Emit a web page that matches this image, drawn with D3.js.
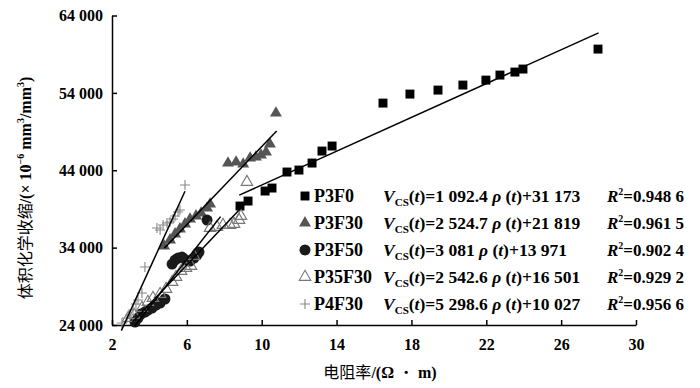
<!DOCTYPE html>
<html>
<head>
<meta charset="utf-8">
<script src="https://cdn.jsdelivr.net/npm/d3@7/dist/d3.min.js"></script>
<style>
  body { margin: 0; background: #fff; }
  text { font-family: "Liberation Serif", "Times New Roman", serif; fill: #000; font-weight: bold; }
  .cjk { font-family: "Noto Sans CJK SC", sans-serif; font-weight: normal; }
</style>
</head>
<body>
<div id="container"></div>
<script>
// series names and fits
const seriesNames = ["P3F0", "P3F30", "P3F50", "P35F30", "P4F30"];
const slopes = [1092.4, 2524.7, 3081, 2542.6, 5298.6];
const intercepts = [31173, 21819, 13971, 16501, 10027];
const slopeLabels = ["1 092.4", "2 524.7", "3 081", "2 542.6", "5 298.6"];
const interceptLabels = ["31 173", "21 819", "13 971", "16 501", "10 027"];
const r2Labels = ["0.948 6", "0.961 5", "0.902 4", "0.929 2", "0.956 6"];
const fitRanges = [[8.8, 28.0], [4.8, 10.8], [3.2, 7.8], [3.1, 9.2], [2.5, 5.9]];

// measured points [resistivity, shrinkage]
const p3f0 = [[8.84, 39375], [9.27, 40020], [10.18, 41313], [10.55, 41700], [11.35, 43770],
  [11.99, 44025], [12.69, 44930], [13.22, 46480], [13.76, 47130], [16.48, 52680],
  [17.92, 53845], [19.42, 54360], [20.75, 55010], [21.98, 55650], [22.73, 56300],
  [23.53, 56690], [23.96, 57080], [27.97, 59660]];
const p3f30 = [[4.78, 34207], [5.10, 34982], [5.37, 35757], [5.63, 36403], [5.90, 37049],
  [6.17, 37695], [6.49, 38083], [6.76, 38470], [7.08, 39116], [7.24, 39633],
  [8.20, 44930], [8.63, 45060], [9.01, 44801], [9.38, 45576], [9.69, 45706],
  [9.96, 45964], [10.23, 46352], [10.44, 47385], [10.76, 51390]];
const p3f50 = [[3.23, 24388], [3.39, 24904], [3.55, 25421], [3.76, 25680], [3.92, 25938],
  [4.14, 26196], [4.35, 26584], [4.57, 26842], [4.83, 27359], [5.21, 31881],
  [5.37, 32398], [5.53, 32656], [5.74, 32786], [5.95, 32398], [6.17, 32269],
  [6.38, 32656], [6.54, 33044], [6.65, 33432], [7.08, 37566]];
const p35f30 = [[2.86, 24904], [3.18, 25292], [3.60, 26196], [3.92, 26972], [4.19, 27488],
  [4.57, 28005], [4.89, 28651], [5.21, 29556], [5.42, 30202], [5.69, 30977],
  [5.95, 31364], [6.22, 31623], [6.38, 32915], [7.24, 36532], [7.61, 36662],
  [7.93, 36920], [8.31, 36920], [8.52, 37049], [8.79, 37566], [8.89, 38083],
  [9.21, 42476]];
const p4f30 = [[2.53, 24258], [2.80, 24904], [2.96, 25292], [3.12, 25938], [3.28, 26713],
  [3.39, 27230], [3.60, 28134], [3.76, 31494], [4.40, 36532], [4.57, 36274],
  [4.73, 36920], [4.94, 37178], [5.10, 37308], [5.26, 37695], [5.37, 38083],
  [5.53, 38600], [5.63, 38858], [5.90, 42088]];

const xTicks = [2, 6, 10, 14, 18, 22, 26, 30];
const yTicks = [24000, 34000, 44000, 54000, 64000];

document.addEventListener("DOMContentLoaded", () => {
  const w = 700;
  const h = 388;
  const left = 112;
  const right = 636;
  const top = 15.5;
  const bottom = 325;

  const svg = d3.
  select("#container").
  append("svg").
  attr("width", w).
  attr("height", h);

  const xScale = d3.scaleLinear().domain([2, 30]).range([left, right]);
  const yScale = d3.scaleLinear().domain([24000, 64000]).range([bottom, top]);

  const fmt = d => d3.format(",")(d).replace(",", " ");

  const xAxis = d3.axisBottom(xScale).
  tickValues(xTicks).
  tickSizeInner(-5).
  tickSizeOuter(0).
  tickPadding(14);

  const yAxis = d3.axisLeft(yScale).
  tickValues(yTicks).
  tickFormat(fmt).
  tickSizeInner(-5).
  tickSizeOuter(0).
  tickPadding(9);

  const gx = svg.append("g").
  attr("transform", `translate(0, ${bottom})`).
  call(xAxis);

  const gy = svg.append("g").
  attr("transform", `translate(${left}, 0)`).
  call(yAxis);

  [gx, gy].forEach(g => {
    g.selectAll("path, line").attr("stroke", "#000").attr("stroke-width", 1.5);
    g.selectAll("text").
    style("font-family", "'Liberation Serif', serif").
    style("font-size", "16px").
    style("font-weight", "bold").
    attr("fill", "#000");
  });

  // marker drawers
  const square = d3.symbol().type(d3.symbolSquare).size(80);
  const triangle = d3.symbol().type(d3.symbolTriangle).size(62);
  const openTri = d3.symbol().type(d3.symbolTriangle).size(58);
  const plus = "M-5,0H5M0,-5V5";

  const styles = [
  { data: p3f0, draw: g => g.append("path").attr("d", square).attr("fill", "#000") },
  { data: p3f30, draw: g => g.append("path").attr("d", triangle).attr("fill", "#555") },
  { data: p3f50, draw: g => g.append("circle").attr("r", 5.5).attr("fill", "#1a1a1a") },
  { data: p35f30, draw: g => g.append("path").attr("d", openTri).attr("fill", "none").attr("stroke", "#777").attr("stroke-width", 1.1) },
  { data: p4f30, draw: g => g.append("path").attr("d", plus).attr("fill", "none").attr("stroke", "#888").attr("stroke-width", 1.1) }];


  styles.forEach(s => {
    svg.append("g").
    selectAll("g").
    data(s.data).
    enter().
    append("g").
    attr("transform", d => `translate(${xScale(d[0])}, ${yScale(d[1])})`).
    each(function () {s.draw(d3.select(this));});
  });

  // fitted lines
  fitRanges.forEach((r, i) => {
    const f = x => slopes[i] * x + intercepts[i];
    svg.append("line").
    attr("x1", xScale(r[0])).
    attr("y1", yScale(f(r[0]))).
    attr("x2", xScale(r[1])).
    attr("y2", yScale(f(r[1]))).
    attr("stroke", "#000").
    attr("stroke-width", 1.5);
  });

  // legend
  const legendY = [196, 223, 250, 277, 304];
  seriesNames.forEach((name, i) => {
    const y = legendY[i];
    const g = svg.append("g").attr("transform", `translate(305, ${y})`);
    styles[i].draw(g);

    g.append("text").
    attr("x", 9).
    attr("y", 6).
    style("font-size", "18px").
    text(name);

    const eq = g.append("text").
    attr("x", 78).
    attr("y", 6).
    style("font-size", "17.5px");
    eq.append("tspan").style("font-style", "italic").text("V");
    eq.append("tspan").style("font-size", "11px").attr("dy", 4).text("CS");
    eq.append("tspan").attr("dy", -4).text("(");
    eq.append("tspan").style("font-style", "italic").text("t");
    eq.append("tspan").text(")=" + slopeLabels[i] + " ");
    eq.append("tspan").style("font-style", "italic").text("ρ");
    eq.append("tspan").text(" (");
    eq.append("tspan").style("font-style", "italic").text("t");
    eq.append("tspan").text(")+" + interceptLabels[i]);

    const r2 = g.append("text").
    attr("x", 302).
    attr("y", 6).
    style("font-size", "17px");
    r2.append("tspan").style("font-style", "italic").text("R");
    r2.append("tspan").style("font-size", "10px").attr("dy", -7).text("2");
    r2.append("tspan").attr("dy", 7).text("=" + r2Labels[i]);
  });

  // axis titles
  svg.append("text").
  attr("x", 380).
  attr("y", 378).
  style("text-anchor", "middle").
  style("font-size", "16px").
  html('<tspan class="cjk">电阻率</tspan>/(Ω ・ m)');

  const yl = svg.append("text").
  attr("transform", `translate(31, 188) rotate(-90)`).
  style("text-anchor", "middle").
  style("font-size", "16px");
  yl.append("tspan").attr("class", "cjk").text("体积化学收缩");
  yl.append("tspan").text("/(× 10");
  yl.append("tspan").style("font-size", "10px").attr("dy", -7).text("−6");
  yl.append("tspan").attr("dy", 7).text(" mm");
  yl.append("tspan").style("font-size", "10px").attr("dy", -7).text("3");
  yl.append("tspan").attr("dy", 7).text("/mm");
  yl.append("tspan").style("font-size", "10px").attr("dy", -7).text("3");
  yl.append("tspan").attr("dy", 7).text(")");
});
</script>
</body>
</html>
